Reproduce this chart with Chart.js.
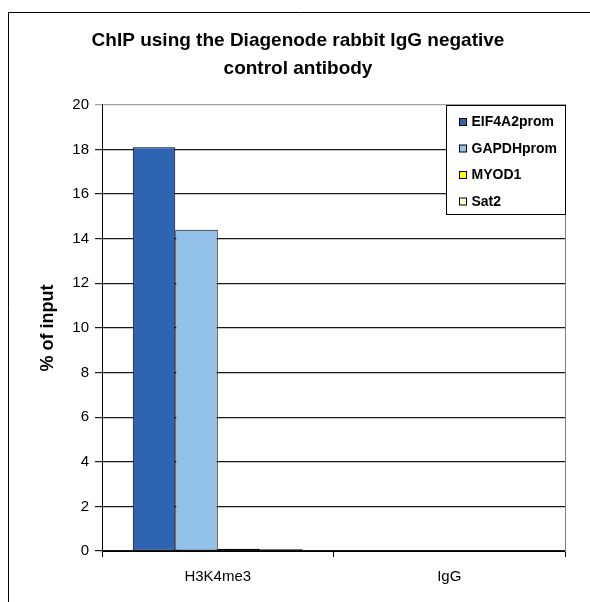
<!DOCTYPE html>
<html lang="en">
<head>
<meta charset="UTF-8">
<title>ChIP IgG negative control</title>
<script src="https://cdn.jsdelivr.net/npm/chart.js@4.4.0/dist/chart.umd.min.js"></script>
<style>
    html, body { margin: 0; padding: 0; background: #fff; }
</style>
</head>
<body>
<canvas id="chipChart" width="590" height="602"></canvas>
<script>
    // values (% of input)
    var categories = ['H3K4me3', 'IgG'];
    var seriesNames = ['EIF4A2prom', 'GAPDHprom', 'MYOD1', 'Sat2'];
    var eif4a2prom = [18.1, 0.02];
    var gapdhprom = [14.4, 0.01];
    var myod1 = [0.1, 0.01];
    var sat2 = [0.08, 0.01];
    var yTicks = [0, 2, 4, 6, 8, 10, 12, 14, 16, 18, 20];
    var seriesColors = ['#2e64b2', '#92c1e9', '#ffff00', '#ffffcc'];

    var seriesData = [eif4a2prom, gapdhprom, myod1, sat2];
    var datasets = seriesNames.map(function (name, i) {
        return {
            label: name,
            data: seriesData[i],
            backgroundColor: seriesColors[i],
            borderColor: '#000',
            borderWidth: 1,
            borderSkipped: false,
            categoryPercentage: 0.734,
            barPercentage: 1.0
        };
    });

    // outer frame + legend box inside the plot
    var framePlugin = {
        id: 'frameAndLegend',
        beforeDraw: function (chart) {
            var ctx = chart.ctx;
            ctx.save();
            ctx.strokeStyle = '#000';
            ctx.lineWidth = 1;
            ctx.beginPath();
            ctx.moveTo(8.5, 602);
            ctx.lineTo(8.5, 12.5);
            ctx.lineTo(590, 12.5);
            ctx.stroke();
            ctx.restore();
        },
        afterDraw: function (chart) {
            var ctx = chart.ctx;
            var area = chart.chartArea;
            var bx = Math.round(area.right) - 118.5, by = Math.round(area.top) + 0.5;
            var bw = 119, bh = 109;
            ctx.save();
            ctx.fillStyle = '#fff';
            ctx.fillRect(bx, by, bw, bh);
            ctx.strokeStyle = '#000';
            ctx.lineWidth = 1;
            ctx.strokeRect(bx, by, bw, bh);
            ctx.font = 'bold 14px "Liberation Sans", Arial, sans-serif';
            ctx.textBaseline = 'middle';
            chart.data.datasets.forEach(function (ds, i) {
                var cy = by + 17 + i * 26.5;
                ctx.fillStyle = ds.backgroundColor;
                ctx.fillRect(bx + 13, cy - 4, 7, 7);
                ctx.strokeRect(bx + 13, cy - 4, 7, 7);
                ctx.fillStyle = '#000';
                ctx.fillText(ds.label, bx + 25, cy);
            });
            ctx.restore();
        }
    };

    var chipChart = new Chart(document.getElementById('chipChart').getContext('2d'), {
        type: 'bar',
        data: { labels: categories, datasets: datasets },
        options: {
            responsive: false,
            devicePixelRatio: 1,
            animation: false,
            layout: { padding: { left: 31, right: 25, top: 12, bottom: 0 } },
            plugins: {
                legend: { display: false },
                tooltip: { enabled: false },
                title: {
                    display: true,
                    text: ['ChIP using the Diagenode rabbit IgG negative', 'control antibody'],
                    color: '#000',
                    font: { family: '"Liberation Sans", Arial, sans-serif', size: 19, weight: 'bold', lineHeight: 1.47 },
                    padding: { top: 15, bottom: 22 }
                }
            },
            scales: {
                x: {
                    grid: { display: true, drawOnChartArea: false, drawTicks: true, tickLength: 6, color: '#000', offset: true },
                    border: { color: '#000', width: 1 },
                    ticks: { color: '#000', padding: 11, font: { family: '"Liberation Sans", Arial, sans-serif', size: 15 } },
                    afterFit: function (s) { s.height = 51; }
                },
                y: {
                    min: 0,
                    max: 20,
                    afterBuildTicks: function (s) { s.ticks = yTicks.map(function (v) { return { value: v }; }); },
                    grid: {
                        color: function (c) { return c.tick && c.tick.value === 20 ? '#a0a0a0' : '#1a1a1a'; },
                        lineWidth: 1.2,
                        tickLength: 7
                    },
                    border: { color: '#000', width: 1 },
                    ticks: { color: '#000', padding: 6, font: { family: '"Liberation Sans", Arial, sans-serif', size: 15 } },
                    title: {
                        display: true,
                        text: '% of input',
                        color: '#000',
                        font: { family: '"Liberation Sans", Arial, sans-serif', size: 18, weight: 'bold' },
                        padding: { top: 6, bottom: 0 }
                    },
                    afterFit: function (s) { s.width = 71; }
                },
                y2: {
                    position: 'right',
                    min: 0,
                    max: 20,
                    grid: { drawOnChartArea: false, drawTicks: false },
                    border: { color: '#808080', width: 1 },
                    ticks: { display: false },
                    afterFit: function (s) { s.width = 0; }
                }
            }
        },
        plugins: [framePlugin]
    });
</script>
</body>
</html>
